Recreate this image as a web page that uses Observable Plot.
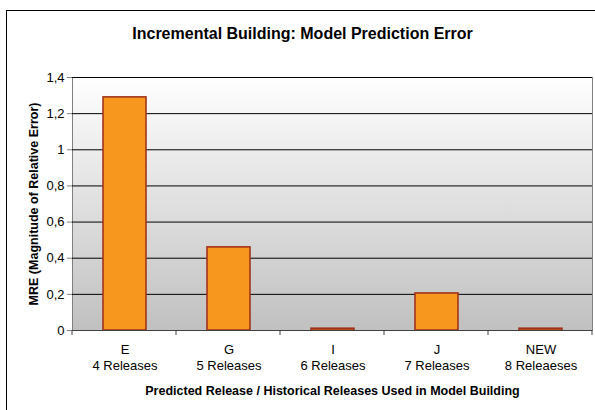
<!DOCTYPE html>
<html><head><meta charset="utf-8">
<script src="https://cdn.jsdelivr.net/npm/d3@7"></script>
<script src="https://cdn.jsdelivr.net/npm/@observablehq/plot@0.6"></script>
<style>
body{margin:0;background:#fff;overflow:hidden;}
#wrap{position:relative;width:595px;height:410px;font-family:"Liberation Sans",Arial,sans-serif;}
#border{position:absolute;left:6px;top:10px;width:620px;height:430px;border:1px solid #000;box-sizing:border-box;pointer-events:none;}
#chart{position:absolute;left:0;top:0;}
</style></head>
<body>
<div id="wrap"><div id="chart"></div><div id="border"></div></div>
<script>
const releases = ["E","G","I","J","NEW"];
const historyLabels = ["4 Releases","5 Releases","6 Releases","7 Releases","8 Releaeses"];
const mre = [1.29, 0.46, 0.01, 0.205, 0.01];
const yTicks = [0,0.2,0.4,0.6,0.8,1,1.2,1.4];
const title = "Incremental Building: Model Prediction Error";
const yTitle = "MRE (Magnitude of Relative Error)";
const xTitle = "Predicted Release / Historical Releases Used in Model Building";

const data = releases.map((r,i)=>({release:r, hist:historyLabels[i], mre:mre[i]}));
const fmt = d => String(+d.toFixed(1)).replace(".", ",");

const plot = Plot.plot({
  width: 595, height: 410,
  marginLeft: 72, marginRight: 3, marginTop: 77, marginBottom: 80,
  style: {fontFamily: '"Liberation Sans", Arial, sans-serif', fontSize: "13px", color: "#000", background: "transparent"},
  x: {domain: releases, padding: 0.59, paddingOuter: 0.295, label: null, axis: null},
  y: {domain: [0,1.4], ticks: yTicks, label: null, axis: null},
  marks: [
    Plot.frame({fill: "url(#bggrad)", stroke: "#808080"}),
    Plot.gridY(yTicks, {stroke: "#000", strokeOpacity: 1, strokeWidth: 1}),
    Plot.axisY(yTicks, {tickFormat: fmt, tickSize: 5, tickPadding: 3, stroke: "#808080", fontSize: 13, label: null}),
    Plot.axisX({tickSize: 0, tickPadding: 12, fontSize: 13, lineHeight: 1.25, label: null,
      tickFormat: d => d + "\n" + historyLabels[releases.indexOf(d)]}),
    Plot.barY(data, {x: "release", y: "mre", fill: "#F7971E", stroke: "#A0351B", strokeWidth: 1.6}),
    Plot.ruleY([0], {stroke: "#404040"}),
    Plot.text([title], {frameAnchor: "top", dy: -50, dx: -30, fontSize: 16, fontWeight: "bold"}),
    Plot.text([yTitle], {frameAnchor: "left", dx: -39, rotate: -90, textAnchor: "middle", fontSize: 12.5, fontWeight: "bold"}),
    Plot.text([xTitle], {frameAnchor: "bottom", dy: 64, fontSize: 12.5, fontWeight: "bold"})
  ]
});

// gradient definition
const svg = d3.select(plot);
const defs = svg.insert("defs", ":first-child");
const g = defs.append("linearGradient").attr("id","bggrad").attr("x1",0).attr("y1",0).attr("x2",0).attr("y2",1);
g.append("stop").attr("offset","0%").attr("stop-color","#ffffff");
g.append("stop").attr("offset","100%").attr("stop-color","#c0c0c0");

// boundary ticks on the x axis derived from the band scale
const xs = plot.scale("x"), ys = plot.scale("y");
const step = (xs.range[1]-xs.range[0]) / releases.length;
const y0 = ys.apply(0);
const bounds = d3.range(releases.length+1).map(i => xs.range[0] + i*step);
svg.append("g").selectAll("line").data(bounds).join("line")
  .attr("x1", d=>d).attr("x2", d=>d).attr("y1", y0).attr("y2", y0+5)
  .attr("stroke", "#404040");

document.getElementById("chart").appendChild(plot);
</script>
</body></html>
